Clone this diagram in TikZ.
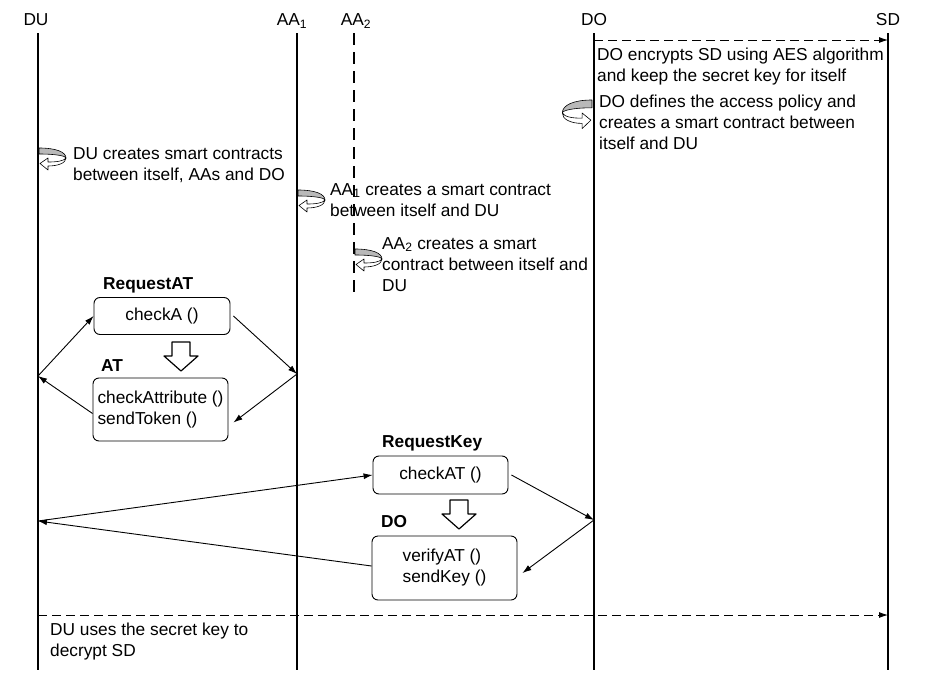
\documentclass[tikz,border=0pt]{standalone}
\usepackage{fontspec}
\setmainfont{Liberation Sans}
\usetikzlibrary{arrows.meta}
\begin{document}
\begin{tikzpicture}[x=1pt,y=-1pt,line join=round,font=\fontsize{17.3}{21}\selectfont,
  life/.style={line width=1.7pt},
  msg/.style={-{Latex[length=9pt,width=6pt]},line width=0.9pt},
  note/.style={anchor=north west,inner sep=0pt,align=left},
  method/.style={draw,rounded corners=6pt,line width=0.9pt,align=left},
  title/.style={anchor=west,inner sep=0pt,font=\fontsize{17.3}{21}\selectfont\bfseries},
  pics/loopicon/.style={code={
    \filldraw[fill=gray!55,line width=0.6pt] (0,0) .. controls (17,0) and (27,4) .. (27,10) .. controls (27,8) and (17,6) .. (0,6) -- cycle;
    \filldraw[fill=white,line width=0.6pt] (27,10) .. controls (27,15) and (19,18) .. (9,18) -- (9,22) -- (1,15.5) -- (9,10) -- (9,14) .. controls (18,14) and (25,13) .. (27,10) -- cycle;
  }},
  pics/blockdown/.style={code={
    \draw[line width=1.2pt,fill=white] (-9,0) -- (9,0) -- (9,14) -- (17,14) -- (0,29) -- (-17,14) -- (-9,14) -- cycle;
  }}]
  \useasboundingbox (0,0) rectangle (926,680);

  % lifelines
  \node (du) at (36,20) {DU};
  \node (aai) at (292,21) {AA\textsubscript{1}};
  \node (aaii) at (356,21) {AA\textsubscript{2}};
  \node (do) at (594,20) {DO};
  \node (sd) at (888,20) {SD};
  \draw[life] (38,33) -- (38,670);
  \draw[life] (297,33) -- (297,670);
  \draw[life,dash pattern=on 12pt off 7pt] (354,33) -- (354,297);
  \draw[life] (594,33) -- (594,670);
  \draw[life] (888,33) -- (888,670);

  % points on the lifelines
  \coordinate (do c) at (594,40);
  \coordinate (sd c) at (888,40);
  \coordinate (du a) at (38,376);
  \coordinate (aai a) at (297,374);
  \coordinate (du b) at (38,521);
  \coordinate (do b) at (594,520);
  \coordinate (du d) at (38,615);
  \coordinate (sd d) at (888,615);

  % encryption
  \draw[msg,dashed,dash pattern=on 9pt off 5pt] (do c) -- (sd c);
  \node[note] (enc) at (597,48) {DO encrypts SD using AES algorithm\\and keep the secret key for itself};

  % smart contracts
  \pic[xscale=-1.1,yscale=1.3] at (592,100) {loopicon};
  \node[note] (pol) at (599,95) {DO defines the access policy and\\creates a smart contract between\\itself and DU};
  \pic at (39,148) {loopicon};
  \node[note] (scdu) at (73,147) {DU creates smart contracts\\between itself, AAs and DO};
  \pic at (298,190) {loopicon};
  \node[note] (scaai) at (330,183) {AA\textsubscript{1} creates a smart contract\\between itself and DU};
  \pic at (355,249) {loopicon};
  \node[note] (scaaii) at (382,237) {AA\textsubscript{2} creates a smart\\contract between itself and\\DU};

  % token request
  \node[title] (reqat) at (103,285) {RequestAT};
  \node[method,minimum width=136pt,minimum height=37pt] (chka) at (162,316) {checkA ()};
  \pic at (181,342) {blockdown};
  \node[title] (atl) at (101,366) {AT};
  \node[method,minimum width=135pt,minimum height=63pt] (at) at (160.5,409.5) {checkAttribute ()\\sendToken ()};
  \draw[msg] (du a) -- (chka.west);
  \draw[msg] ([xshift=3pt]chka.east) -- (aai a);
  \draw[msg] (aai a) -- ([xshift=5pt,yshift=-13pt]at.east);
  \draw[msg] ([yshift=-4pt]at.west) -- (du a);

  % key request
  \node[title] (reqkey) at (382,443) {RequestKey};
  \node[method,minimum width=135pt,minimum height=38pt] (chkat) at (440.5,475) {checkAT ()};
  \pic at (459,500) {blockdown};
  \node[title] (dol) at (381,522) {DO};
  \node[method,minimum width=145pt,minimum height=64pt] (key) at (444.5,568) {verifyAT ()\\sendKey ()};
  \draw[msg] (du b) -- (chkat.west);
  \draw[msg] ([xshift=3pt]chkat.east) -- (do b);
  \draw[msg] (do b) -- ([xshift=5pt,yshift=-5pt]key.east);
  \draw[msg] ([yshift=2pt]key.west) -- (du b);

  % decryption
  \draw[msg,dashed,dash pattern=on 9pt off 5pt] (du d) -- (sd d);
  \node[note] (dec) at (50,623) {DU uses the secret key to\\decrypt SD};
\end{tikzpicture}
\end{document}
